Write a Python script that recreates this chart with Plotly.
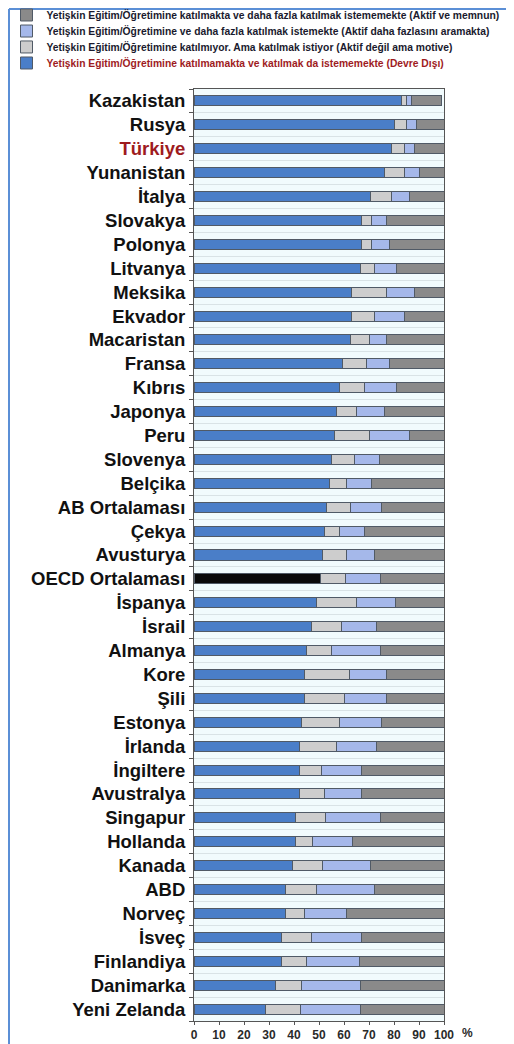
import plotly.graph_objects as go

# ülkeler (yukarıdan aşağıya)
countries = ["Kazakistan", "Rusya", "Türkiye", "Yunanistan", "İtalya", "Slovakya", "Polonya",
             "Litvanya", "Meksika", "Ekvador", "Macaristan", "Fransa", "Kıbrıs", "Japonya",
             "Peru", "Slovenya", "Belçika", "AB Ortalaması", "Çekya", "Avusturya",
             "OECD Ortalaması", "İspanya", "İsrail", "Almanya", "Kore", "Şili", "Estonya",
             "İrlanda", "İngiltere", "Avustralya", "Singapur", "Hollanda", "Kanada", "ABD",
             "Norveç", "İsveç", "Finlandiya", "Danimarka", "Yeni Zelanda"]

# Devre Dışı
disengaged = [83, 80, 79, 76, 70.5, 67, 67, 66.5, 63, 63, 62.5, 59.5, 58, 57, 56, 55, 54,
              53, 52, 51.5, 50.5, 49, 47, 45, 44, 44, 43, 42, 42, 42, 40.5, 40.5, 39.5,
              36.5, 36.5, 35, 35, 32.5, 28.5]
# Aktif değil ama motive
motivated = [1.8, 5, 5, 8, 8.5, 4, 4, 5.5, 14, 9, 7.5, 9.5, 10, 8, 14, 9, 7, 9.5, 6, 9.5,
             10, 16, 12, 10, 18, 16, 15, 15, 9, 10, 12, 7, 12, 12.5, 7.5, 12, 10, 10.5, 14]
# Aktif daha fazlasını aramakta
seeking = [2.2, 4, 4, 6, 7.2, 6, 7, 9, 11, 12, 7, 9.3, 13, 11.3, 16, 10, 10, 12.5, 10.3,
           11, 14, 15.5, 14, 19.5, 15, 17, 17, 16, 16, 15, 22, 16, 19, 23, 17, 20, 21,
           23.5, 24]
# Aktif ve memnun
satisfied = [12, 11, 12, 10, 13.8, 23, 22, 19, 12, 16, 23, 21.7, 19, 23.7, 14, 26, 29,
             25, 31.7, 28, 25.5, 19.5, 27, 25.5, 23, 23, 25, 27, 33, 33, 25.5, 36.5, 29.5,
             28, 39, 33, 34, 33.5, 33.5]

labels = [
    "Yetişkin Eğitim/Öğretimine katılmamakta ve katılmak da istememekte (Devre Dışı)",
    "Yetişkin Eğitim/Öğretimine katılmıyor. Ama katılmak istiyor (Aktif değil ama motive)",
    "Yetişkin Eğitim/Öğretimine ve daha fazla katılmak istemekte (Aktif daha fazlasını aramakta)",
    "Yetişkin Eğitim/Öğretimine katılmakta ve daha fazla katılmak istememekte (Aktif ve memnun)",
]

blue = "#4a7ec8"
red = "#9e1b1e"
blue_cols = ["#0a0a0a" if c == "OECD Ortalaması" else blue for c in countries]
tick_text = ["<span style='color:%s'>%s</span>" % (red, c) if c == "Türkiye" else c
             for c in countries]

fig = go.Figure()
# her seri kendi lejantında (satır aralığı 16 px olsun diye)
series = [
    (disengaged, blue_cols, "<span style='color:%s'>%s</span>" % (red, labels[0]), "legend4"),
    (motivated, "#cdcdcd", labels[1], "legend3"),
    (seeking, "#a5b8ea", labels[2], "legend2"),
    (satisfied, "#8a8a8a", labels[3], "legend"),
]
for vals, col, name, leg in series:
    fig.add_trace(go.Bar(
        y=countries, x=vals, orientation="h", name=name, width=0.42, legend=leg,
        marker=dict(color=col, line=dict(color="#505a66", width=1)),
    ))

leg_font = dict(family="Liberation Sans, Arial, sans-serif", size=10.3,
                color="#1a1a2e", weight="bold")


def leg_box(y):
    return dict(x=-0.75, xanchor="left", y=y, yanchor="middle", font=leg_font,
                bgcolor="rgba(0,0,0,0)", itemwidth=30)


tick_font = dict(family="Liberation Sans, Arial, sans-serif", size=12,
                 color="#2a2a2a", weight="bold")

fig.update_layout(
    barmode="stack",
    width=506, height=1036,
    margin=dict(l=186, r=70, t=81, b=23, autoexpand=False),
    paper_bgcolor="white",
    plot_bgcolor="#f1fbfd",
    showlegend=True,
    legend=leg_box(1.0794),
    legend2=leg_box(1.0622),
    legend3=leg_box(1.0451),
    legend4=leg_box(1.0279),
    xaxis=dict(
        range=[0, 100], tickvals=list(range(0, 101, 10)),
        showgrid=False, zeroline=False, showline=True, linecolor="#555555",
        mirror=True, ticks="outside", ticklen=3, tickcolor="#555555",
        tickfont=tick_font,
    ),
    yaxis=dict(
        categoryorder="array", categoryarray=countries, autorange="reversed",
        tickvals=countries, ticktext=tick_text,
        tickson="boundaries", ticks="outside", ticklen=4, tickcolor="#555555",
        ticklabelstandoff=4,
        showgrid=True, gridcolor="#d9e3e6", gridwidth=1,
        showline=True, linecolor="#555555", mirror=True,
        tickfont=dict(family="Liberation Sans, Arial, sans-serif", size=18.5,
                      color="#111111", weight="bold"),
    ),
    font=dict(family="Liberation Sans, Arial, sans-serif"),
)

fig.add_annotation(text="%", xref="paper", yref="paper", x=1.063, xanchor="left", y=0,
                   yanchor="top", yshift=-3, showarrow=False, font=tick_font)

# çerçeve (sol ve üst mavi çizgi)
fig.add_shape(type="line", xref="paper", yref="paper", x0=-0.74, x1=-0.74, y0=-0.03, y1=1.0858,
              line=dict(color="#5b8fd6", width=2))
fig.add_shape(type="line", xref="paper", yref="paper", x0=-0.74, x1=1.3, y0=1.0858, y1=1.0858,
              line=dict(color="#5b8fd6", width=2))

fig.write_html("out.html")
